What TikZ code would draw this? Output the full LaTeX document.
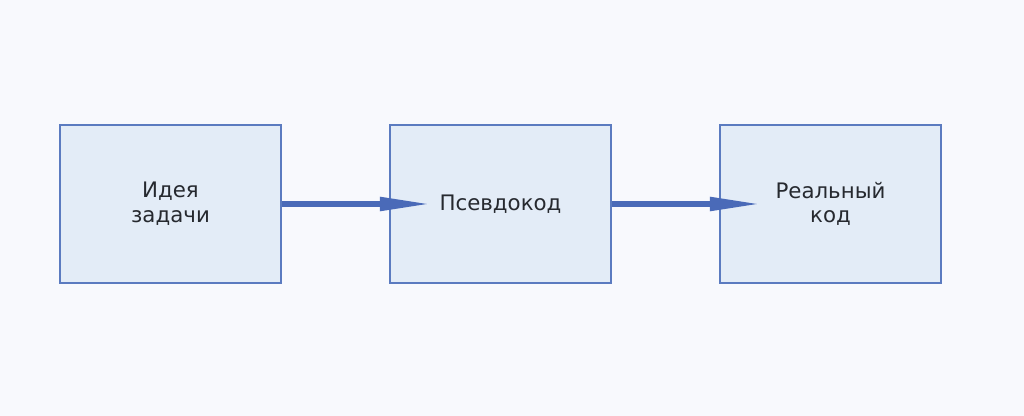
\documentclass[tikz,border=0pt]{standalone}
\usepackage{fontspec}
\setmainfont{DejaVu Sans}
\usetikzlibrary{arrows.meta}
\definecolor{bgc}{HTML}{F8F9FD}
\definecolor{boxfill}{HTML}{E3ECF7}
\definecolor{boxline}{HTML}{5B7BC0}
\definecolor{arrowc}{HTML}{4A6AB8}
\definecolor{txt}{HTML}{26292F}
\begin{document}
\begin{tikzpicture}[x=0.75pt,y=-0.75pt,
  stepbox/.style={draw=boxline,fill=boxfill,line width=1.2pt,minimum width=165.75pt,minimum height=118.5pt,inner sep=0pt,align=center,text=txt,font=\fontsize{16pt}{18.5pt}\selectfont},
  flow/.style={draw=arrowc,line width=4pt,-{Triangle[length=38pt,width=9.75pt]}}]
\fill[bgc] (0,0) rectangle (1024,416);
\useasboundingbox (0,0) rectangle (1024,416);
\node[stepbox] (a) at (170.5,204) {Идея\\задачи};
\node[stepbox] (b) at (500.5,204) {Псевдокод};
\node[stepbox] (c) at (830.5,204) {Реальный\\код};
\coordinate (ta) at ([xshift=31pt]b.west);
\coordinate (tb) at ([xshift=31pt]c.west);
\draw[flow] (a.east) -- (ta);
\draw[flow] (b.east) -- (tb);
\end{tikzpicture}
\end{document}
